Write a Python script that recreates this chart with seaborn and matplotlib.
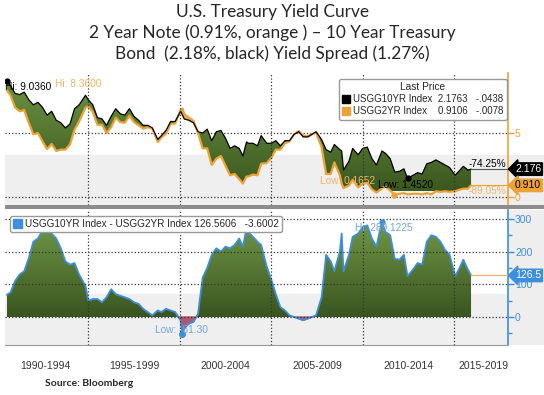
import numpy as np
import matplotlib
matplotlib.use("Agg")
import matplotlib.pyplot as plt
import seaborn as sns
from matplotlib.colors import LinearSegmentedColormap
from matplotlib.patches import Patch, Rectangle
from matplotlib.path import Path
import matplotlib.transforms as mtransforms

# Data (fractional years)
years = [1990.55, 1990.75, 1991.00, 1991.25, 1991.50, 1991.75, 1992.00, 1992.25, 1992.50, 1992.75,
         1993.00, 1993.25, 1993.50, 1993.75, 1994.00, 1994.25, 1994.50, 1994.85, 1995.00, 1995.25,
         1995.50, 1995.75, 1996.00, 1996.25, 1996.50, 1996.75, 1997.00, 1997.25, 1997.50, 1997.75,
         1998.00, 1998.25, 1998.50, 1998.80, 1999.00, 1999.25, 1999.50, 1999.75, 2000.05, 2000.15,
         2000.25, 2000.50, 2000.75, 2001.00, 2001.25, 2001.50, 2001.75, 2002.00, 2002.25, 2002.50,
         2002.75, 2003.00, 2003.25, 2003.45, 2003.65, 2003.75, 2004.00, 2004.25, 2004.45, 2004.75,
         2005.00, 2005.25, 2005.50, 2005.75, 2006.00, 2006.25, 2006.50, 2006.75, 2007.00, 2007.45,
         2007.75, 2008.00, 2008.25, 2008.45, 2008.75, 2008.85, 2008.95, 2009.25, 2009.45, 2009.75,
         2010.00, 2010.25, 2010.50, 2010.75, 2011.00, 2011.05, 2011.25, 2011.50, 2011.75, 2012.00,
         2012.25, 2012.45, 2012.75, 2013.00, 2013.25, 2013.50, 2013.75, 2014.00, 2014.25, 2014.50,
         2014.75, 2015.05, 2015.25, 2015.50, 2015.75, 2015.92]

ten_year = [9.04, 8.70, 8.10, 8.00, 8.20, 7.60, 7.20, 7.40, 7.00, 6.40,
            6.70, 6.00, 5.80, 5.40, 5.70, 6.90, 7.20, 7.95, 7.60, 7.20,
            6.20, 6.10, 5.60, 6.30, 6.90, 6.50, 6.40, 6.90, 6.30, 6.00,
            5.60, 5.60, 5.40, 4.50, 4.80, 5.20, 5.90, 5.90, 6.70, 6.40,
            6.10, 6.00, 5.80, 5.10, 5.00, 5.30, 4.40, 5.10, 5.20, 4.60,
            3.80, 4.00, 3.80, 3.20, 4.30, 4.20, 4.20, 4.00, 4.80, 4.20,
            4.20, 4.40, 4.00, 4.40, 4.40, 4.90, 5.10, 4.70, 4.70, 5.10,
            4.50, 3.70, 3.50, 4.10, 3.70, 3.60, 2.10, 2.80, 3.80, 3.30,
            3.80, 3.90, 3.00, 2.50, 3.40, 3.60, 3.40, 3.00, 1.95, 2.00,
            2.20, 1.45, 1.70, 1.90, 1.80, 2.60, 2.70, 2.90, 2.70, 2.50,
            2.30, 1.70, 2.00, 2.40, 2.10, 2.18]

spread_bp = [68, 75, 110, 130, 140, 180, 230, 240, 265, 265,
             255, 240, 210, 170, 160, 165, 130, 95, 50, 55,
             55, 45, 60, 85, 70, 65, 60, 55, 45, 40,
             25, 15, 5, 20, 15, 25, 20, 15, -10, -51,
             -35, -20, -15, 10, 120, 150, 190, 210, 200, 215,
             210, 220, 240, 215, 270, 260, 245, 230, 220, 155,
             115, 70, 30, 20, 5, 0, -5, -10, -5, 5,
             60, 190, 170, 140, 200, 255, 140, 190, 245, 255,
             275, 280, 240, 215, 280, 289, 260, 250, 178, 175,
             190, 125, 145, 165, 160, 230, 250, 245, 230, 205,
             190, 125, 145, 175, 145, 127]

x = np.array(years)
y10 = np.array(ten_year)
spread = np.array(spread_bp, dtype=float)
y2 = y10 - spread / 100.0

ORANGE = "#eda236"
BLUE = "#3d8ede"
GRID = "#333333"
X0, X1 = 1990.45, 2017.94

sns.set_style("white")
plt.rcParams["font.family"] = ["Liberation Sans", "DejaVu Sans"]


def gradient_fill(ax, xs, ya, yb, where, light, dark, lo, hi):
    poly = ax.fill_between(xs, ya, yb, where=where, interpolate=True,
                           facecolor="none", edgecolor="none")
    path = Path.make_compound_path(*poly.get_paths())
    cmap = LinearSegmentedColormap.from_list("g", [dark, light])
    grad = np.linspace(0, 1, 256).reshape(-1, 1)
    im = ax.imshow(grad, extent=[xs.min(), xs.max(), lo, hi], origin="lower",
                   aspect="auto", cmap=cmap, zorder=2)
    im.set_clip_path(path, transform=ax.transData)


fig = plt.figure(figsize=(5.44, 3.95), dpi=100)
W, H = 544.0, 395.0

def fx(px):
    return px / W

def fy(py):
    return 1 - py / H

# figure-level backgrounds (right margin shading, panel separator)
fig.patches.append(Rectangle((fx(508), fy(205)), fx(36), 50 / H, transform=fig.transFigure,
                             facecolor="#eeeeee", edgecolor="none", zorder=-1))
fig.patches.append(Rectangle((fx(508), fy(345)), fx(36), 135 / H, transform=fig.transFigure,
                             facecolor="#eeeeee", edgecolor="none", zorder=-1))
fig.patches.append(Rectangle((fx(5), fy(209)), 1 - fx(5), 4 / H, transform=fig.transFigure,
                             facecolor="#8c8c8c", edgecolor="none", zorder=3))

ax_top = fig.add_axes([fx(5), fy(205), fx(503), 132 / H])
ax_bot = fig.add_axes([fx(5), fy(345), fx(503), 135 / H])

# ---------- top panel: yields ----------
ax = ax_top
ax.axhspan(-2, 3.3, color="#efefef", zorder=0)
gradient_fill(ax, x, y10, y2, y10 >= y2, "#6e9442", "#3b5820", 0.5, 9.5)
ax.fill_between(x, y10, y2, where=y2 > y10, interpolate=True, color="#e9b25a", zorder=2)
sns.lineplot(x=x, y=y2, ax=ax, color=ORANGE, lw=1.6, sort=False, zorder=3)
sns.lineplot(x=x, y=y10, ax=ax, color="black", lw=0.9, sort=False, zorder=4)
for v in [5, 0]:
    ax.axhline(v, ls=":", color=GRID, lw=0.9, zorder=1)
for yr in [1995, 2000, 2005, 2010, 2015]:
    ax.axvline(yr, ls=":", color=GRID, lw=0.9, zorder=5)
ax.set_xlim(X0, X1)
ax.set_ylim(-0.625, 9.69)
ax.yaxis.tick_right()
ax.set_yticks([5, 0])
ax.tick_params(axis="y", colors=ORANGE, labelsize=7.5, length=4, width=1, pad=1)
ax.set_xticks([])
for s in ["top", "left", "bottom"]:
    ax.spines[s].set_visible(False)
ax.spines["right"].set_color(ORANGE)
ax.spines["right"].set_linewidth(1.2)

ax.plot([1990.55], [9.036], "o", color="black", ms=3.5, zorder=6)
ax.text(1990.45, 8.6, "Hi: 9.0360", fontsize=7.3, color="black", va="center", zorder=6)
ax.text(1993.18, 8.85, "Hi: 8.3600", fontsize=7.3, color="#f0b565", va="center", zorder=6)
ax.plot([2011.72], [0.1652], "o", color=ORANGE, ms=3.5, zorder=6)
ax.plot([2012.45], [1.452], "o", color="black", ms=3.5, zorder=6)
ax.text(2007.66, 1.25, "Low: 0.1652", fontsize=7.3, color="#f0b565", va="center", zorder=6)
ax.text(2010.83, 0.94, "Low: 1.4520", fontsize=7.3, color="black", va="center", zorder=6)

ax.plot([x[-1], X1], [y10[-1]] * 2, color="#555555", lw=0.8, zorder=6)
ax.plot([x[-1], X1], [y2[-1]] * 2, color=ORANGE, lw=0.8, zorder=6)
ax.text(2017.85, 2.55, "-74.25%", fontsize=7.3, color="black", ha="right", va="center", zorder=6)
ax.text(2017.85, 0.45, "-89.05%", fontsize=7.3, color="#f0b565", ha="right", va="center", zorder=6)

trans = mtransforms.blended_transform_factory(ax.transAxes, ax.transData)
ax.text(1.014, y10[-1], "2.176", transform=trans, fontsize=7.5, color="white", va="center",
        bbox=dict(boxstyle="larrow,pad=0.12", fc="black", ec="black"),
        clip_on=False, zorder=7)
ax.text(1.014, y2[-1], "0.910", transform=trans, fontsize=7.5, color="black", va="center",
        bbox=dict(boxstyle="larrow,pad=0.12", fc=ORANGE, ec=ORANGE),
        clip_on=False, zorder=7)

leg = ax.legend(handles=[Patch(color="black"), Patch(color=ORANGE)],
                labels=["USGG10YR Index  2.1763   -.0438", "USGG2YR Index    0.9106   -.0078"],
                title="Last Price", loc="upper left", bbox_to_anchor=(fx(334), fy(74)),
                bbox_transform=fig.transFigure, fontsize=7, title_fontsize=7.3,
                frameon=True, fancybox=True, edgecolor="#999999", framealpha=1,
                handlelength=0.8, handleheight=0.9, handletextpad=0.3, borderpad=0.35,
                labelspacing=0.2)
leg.set_zorder(10)

# ---------- bottom panel: spread ----------
ax = ax_bot
ax.axhspan(-200, 70, color="#efefef", zorder=0)
gradient_fill(ax, x, spread, np.zeros_like(spread), spread >= 0, "#729a48", "#3a5520", 0, 300)
ax.fill_between(x, spread, 0, where=spread < 0, interpolate=True, color="#b5566f", zorder=2)
sns.lineplot(x=x, y=spread, ax=ax, color=BLUE, lw=1.3, sort=False, zorder=3)
for v in [300, 200, 100, 0]:
    ax.axhline(v, ls=":", color=GRID, lw=0.9, zorder=4)
for yr in [1995, 2000, 2005, 2010, 2015]:
    ax.axvline(yr, ls=":", color=GRID, lw=0.9, zorder=5)
ax.set_xlim(X0, X1)
ax.set_ylim(-85.6, 327)
ax.yaxis.tick_right()
ax.set_yticks([300, 200, 100, 0])
ax.set_yticks([250, 150, 50, -50], minor=True)
ax.tick_params(axis="y", which="both", colors=BLUE, labelsize=7.5, length=4, width=1, pad=1)
ax.tick_params(axis="y", which="minor", length=3)
for s in ["top", "left"]:
    ax.spines[s].set_visible(False)
ax.spines["right"].set_color(BLUE)
ax.spines["right"].set_linewidth(1.2)
ax.spines["bottom"].set_color("#999999")

ax.set_xticks([1995, 2000, 2005, 2010, 2015])
ax.set_xticklabels([])
ax.set_xticks(np.arange(1991, 2018), minor=True)
ax.tick_params(axis="x", which="major", length=19, color="#999999", width=0.9)
ax.tick_params(axis="x", which="minor", length=3, color="#999999", width=0.9)
xtrans = mtransforms.blended_transform_factory(ax.transData, fig.transFigure)
for lbl, cx in [("1990-1994", 1992.65), ("1995-1999", 1997.5), ("2000-2004", 2002.5),
                ("2005-2009", 2007.5), ("2010-2014", 2012.5), ("2015-2019", 2016.6)]:
    ax.text(cx, fy(366), lbl, transform=xtrans, fontsize=7.5, color="#333333",
            ha="center", va="center")

ax.plot([2000.15], [-51.3], "o", color=BLUE, ms=4, zorder=6)
ax.text(1998.65, -40, "Low: -51.30", fontsize=7.3, color="#6fa6dc", va="center", zorder=6)
ax.plot([2011.05], [289], "o", color=BLUE, ms=3.5, zorder=6)
ax.text(2009.58, 272, "Hi: 289.1225", fontsize=7.3, color="#6fa6dc", va="center", zorder=6)
ax.plot([x[-1], X1], [spread[-1]] * 2, color="#f0b565", lw=0.9, zorder=6)

trans = mtransforms.blended_transform_factory(ax.transAxes, ax.transData)
ax.text(1.014, spread[-1], "126.5", transform=trans, fontsize=7.5, color="white", va="center",
        bbox=dict(boxstyle="larrow,pad=0.12", fc=BLUE, ec=BLUE), clip_on=False, zorder=7)

leg = ax.legend(handles=[Patch(color=BLUE)],
                labels=["USGG10YR Index - USGG2YR Index 126.5606   -3.6002"],
                loc="upper left", bbox_to_anchor=(fx(5), fy(211)), bbox_transform=fig.transFigure,
                fontsize=7.2, frameon=True, fancybox=True, edgecolor="#999999", framealpha=1,
                handlelength=0.9, handleheight=0.9, handletextpad=0.3, borderpad=0.3)
leg.set_zorder(10)

# ---------- titles ----------
title_font = ["Lato", "DejaVu Sans"]
fig.text(0.5, fy(12), "U.S. Treasury Yield Curve", ha="center", va="center",
         fontsize=12.4, family=title_font)
fig.text(0.5, fy(33), "2 Year Note (0.91%, orange ) \u2013 10 Year Treasury", ha="center",
         va="center", fontsize=12.4, family=title_font)
fig.text(0.5, fy(54), "Bond  (2.18%, black) Yield Spread (1.27%)", ha="center", va="center",
         fontsize=12.4, family=title_font)
fig.text(fx(45), fy(383), "Source: Bloomberg", ha="left", va="center", fontsize=7.5,
         fontweight="bold", family=title_font)

fig.savefig("out.png", dpi=100)
